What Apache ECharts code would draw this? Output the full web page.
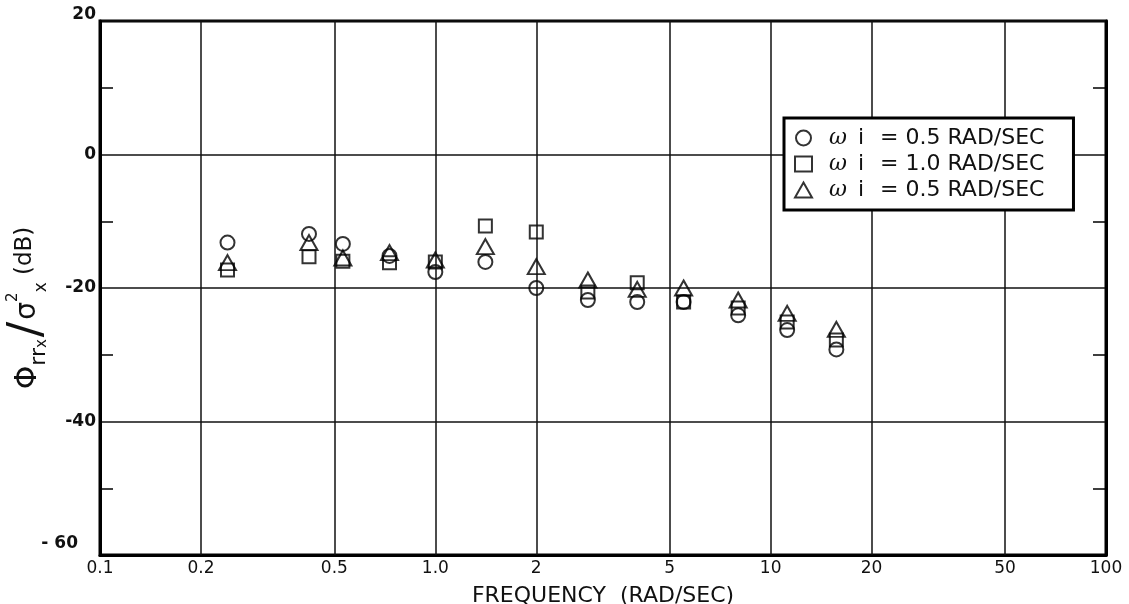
<!DOCTYPE html>
<html>
<head>
<meta charset="utf-8">
<script src="https://cdn.jsdelivr.net/npm/echarts@6/dist/echarts.min.js"></script>
<style>
html,body{margin:0;padding:0;background:#fff;}
#chart{width:1129px;height:604px;}
</style>
</head>
<body>
<div id="chart"></div>
<script>
// ---- data ----
const frequencies = [0.24, 0.42, 0.53, 0.73, 1.0, 1.41, 2.0, 2.85, 4.0, 5.5, 8.0, 11.2, 15.7];
const circleSeries = [-13.2, -11.9, -13.4, -15.2, -17.6, -16.1, -20.0, -21.8, -22.1, -22.1, -24.1, -26.3, -29.2];
const squareSeries = [-17.3, -15.3, -16.0, -16.2, -16.1, -10.7, -11.6, -20.6, -19.2, -22.1, -23.0, -25.1, -27.8];
const triangleSeries = [-16.2, -13.2, -15.5, -14.7, -15.8, -13.8, -16.8, -18.8, -20.2, -20.0, -21.8, -23.8, -26.2];
const seriesNames = ['ωi = 0.5 RAD/SEC', 'ωi = 1.0 RAD/SEC', 'ωi = 0.5 RAD/SEC '];
const xTickValues = [0.1, 0.2, 0.5, 1, 2, 5, 10, 20, 50, 100];
const xTickLabels = ['0.1', '0.2', '0.5', '1.0', '2', '5', '10', '20', '50', '100'];
const xGridValues = [0.2, 0.5, 1, 2, 5, 10, 20, 50];
const yTickValues = [-60, -40, -20, 0, 20];

const chart = echarts.init(document.getElementById('chart'), null, {renderer: 'canvas'});

function pairs(ys) { return frequencies.map((f, i) => [f, ys[i]]); }

const markerStyle = {color: 'rgba(255,255,255,0)', borderColor: '#000', borderWidth: 2};
const fontFam = '"DejaVu Sans", "Liberation Sans", sans-serif';

function legendRich(name) {
  const rest = name.trim().slice(2);
  return '{w|ω}{i| i}{t|' + rest + '}';
}

const option = {
  backgroundColor: '#fff',
  animation: false,
  grid: {left: 100, right: 23, top: 21, bottom: 49, show: true, borderColor: '#000', borderWidth: 3,
         backgroundColor: 'transparent', outerBoundsMode: 'none', containLabel: false},
  legend: {
    orient: 'vertical',
    left: 784, top: 118,
    padding: [9, 29, 9, 10],
    itemGap: 4,
    itemWidth: 17, itemHeight: 15,
    backgroundColor: '#fff',
    borderColor: '#000', borderWidth: 3,
    z: 10,
    data: [
      {name: seriesNames[0], icon: 'circle', itemStyle: {color: '#fff', borderColor: '#000', borderWidth: 2}},
      {name: seriesNames[1], icon: 'rect', itemStyle: {color: '#fff', borderColor: '#000', borderWidth: 2}},
      {name: seriesNames[2], icon: 'triangle', itemStyle: {color: '#fff', borderColor: '#000', borderWidth: 2}}
    ],
    formatter: legendRich,
    textStyle: {
      color: '#111', fontFamily: fontFam, fontSize: 22, lineHeight: 22, padding: [0, 0, 0, 12],
      rich: {
        w: {fontFamily: '"DejaVu Serif", serif', fontStyle: 'italic', fontSize: 22, lineHeight: 22, color: '#111'},
        i: {fontFamily: fontFam, fontSize: 22, lineHeight: 22, color: '#111', padding: [0, 9, 0, 4]},
        t: {fontFamily: fontFam, fontSize: 22, lineHeight: 22, color: '#111'}
      }
    }
  },
  xAxis: {
    type: 'log', logBase: 10, min: 0.1, max: 100,
    name: 'FREQUENCY  (RAD/SEC)',
    nameLocation: 'middle', nameGap: 30,
    nameTextStyle: {fontFamily: fontFam, fontSize: 22, color: '#111'},
    axisLine: {show: true, onZero: false, lineStyle: {color: '#000', width: 3}},
    axisTick: {show: false},
    splitLine: {show: false},
    minorTick: {show: false},
    axisLabel: {
      customValues: xTickValues,
      showMinLabel: true, showMaxLabel: true,
      margin: 5,
      fontFamily: fontFam, fontSize: 17, color: '#111',
      formatter: function (v) {
        for (let i = 0; i < xTickValues.length; i++) {
          if (Math.abs(Math.log10(v) - Math.log10(xTickValues[i])) < 1e-6) return xTickLabels[i];
        }
        return '';
      }
    }
  },
  yAxis: [
    {
      type: 'value', min: -60, max: 20, interval: 20,
      name: '{p|Φ}{s|rr}{ss|x}{sl|/}{q|σ}{sup|2}{sub|x}{u| (dB)}',
      nameLocation: 'middle', nameGap: 50, nameRotate: 90, nameMoveOverlap: false,
      nameTextStyle: {
        color: '#111', fontFamily: fontFam, padding: [0, 40, 0, 0],
        rich: {
          p: {fontFamily: fontFam, fontSize: 30, lineHeight: 44, color: '#111', verticalAlign: 'middle'},
          s: {fontFamily: fontFam, fontSize: 22, color: '#111', verticalAlign: 'bottom', lineHeight: 42},
          ss: {fontFamily: fontFam, fontSize: 15, color: '#111', verticalAlign: 'bottom', lineHeight: 32},
          sl: {fontFamily: fontFam, fontSize: 46, color: '#111', verticalAlign: 'middle', lineHeight: 44, padding: [0, 2, 0, 2]},
          q: {fontFamily: fontFam, fontSize: 28, color: '#111', verticalAlign: 'middle', lineHeight: 44},
          sup: {fontFamily: fontFam, fontSize: 15, color: '#111', verticalAlign: 'top', lineHeight: 44},
          sub: {fontFamily: fontFam, fontSize: 17, color: '#111', verticalAlign: 'bottom', lineHeight: 44},
          u: {fontFamily: fontFam, fontSize: 23, color: '#111', verticalAlign: 'middle', lineHeight: 40, padding: [0, 0, 6, 0]}
        }
      },
      axisLine: {show: true, onZero: false, lineStyle: {color: '#000', width: 3}},
      axisTick: {show: true, inside: true, length: 0, lineStyle: {color: '#000', width: 1.5}},
      minorTick: {show: true, splitNumber: 2, length: 13, lineStyle: {color: '#000', width: 1.5}},
      splitLine: {show: true, lineStyle: {color: '#111', width: 1.5}},
      axisLabel: {
        margin: 4,
        fontFamily: fontFam, fontWeight: 'bold', fontSize: 17, color: '#111',
        formatter: function (v) {
          if (v === yTickValues[yTickValues.length - 1]) return '{top|' + v + '}';
          if (v === yTickValues[0]) return '{bot|- ' + Math.abs(v) + '}';
          return String(v);
        },
        rich: {
          top: {fontFamily: fontFam, fontWeight: 'bold', fontSize: 17, color: '#111', padding: [0, 0, 12, 0]},
          bot: {fontFamily: fontFam, fontWeight: 'bold', fontSize: 17, color: '#111', padding: [0, 18, 22, 0]}
        }
      }
    },
    {
      type: 'value', min: -60, max: 20, interval: 20, position: 'right',
      axisLine: {show: true, onZero: false, lineStyle: {color: '#000', width: 3}},
      axisTick: {show: true, inside: true, length: 0},
      minorTick: {show: true, splitNumber: 2, length: 13, lineStyle: {color: '#000', width: 1.5}},
      splitLine: {show: false},
      axisLabel: {show: false}
    }
  ],
  series: [
    {
      name: seriesNames[0], type: 'scatter', symbol: 'circle', symbolSize: 14,
      data: pairs(circleSeries), itemStyle: markerStyle, z: 3,
      markLine: {
        silent: true, symbol: ['none', 'none'], label: {show: false},
        lineStyle: {color: '#111', width: 1.5, type: 'solid'},
        data: xGridValues.map(v => ({xAxis: v}))
      }
    },
    {
      name: seriesNames[1], type: 'scatter', symbol: 'rect', symbolSize: 13,
      data: pairs(squareSeries), itemStyle: markerStyle, z: 3
    },
    {
      name: seriesNames[2], type: 'scatter', symbol: 'triangle', symbolSize: [17, 15],
      data: pairs(triangleSeries), itemStyle: markerStyle, z: 3
    }
  ]
};
chart.setOption(option);
</script>
</body>
</html>
